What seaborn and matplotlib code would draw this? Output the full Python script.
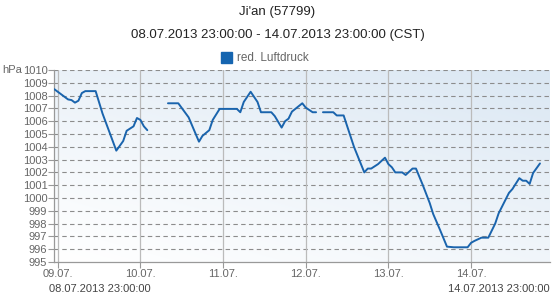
import numpy as np
import pandas as pd
import matplotlib
matplotlib.use("Agg")
import matplotlib.pyplot as plt
import seaborn as sns

# hours since 09.07.2013 00:00 (CST), reduced air pressure (hPa); segments separated by data gaps
seg1_hours = [-1, 3, 4, 5, 6, 7, 8, 11, 13, 17, 19, 20, 22, 23, 24, 25, 26]
seg1_vals = [1008.5, 1007.7, 1007.65, 1007.45, 1007.6, 1008.2, 1008.35, 1008.35, 1006.6,
             1003.7, 1004.45, 1005.25, 1005.6, 1006.25, 1006.1, 1005.6, 1005.3]
seg2_hours = [32, 35, 38, 41, 42, 44, 45, 47, 52, 53, 54, 56, 58, 59, 62, 63, 65, 66, 67,
              68, 71, 72, 74, 75]
seg2_vals = [1007.4, 1007.4, 1006.3, 1004.4, 1004.85, 1005.3, 1006.1, 1006.96, 1006.96,
             1006.7, 1007.5, 1008.3, 1007.5, 1006.7, 1006.7, 1006.4, 1005.5, 1006.0, 1006.2,
             1006.75, 1007.4, 1007.06, 1006.7, 1006.7]
seg3_hours = [77, 80, 81, 83, 86, 89, 90, 91, 93, 95, 96, 97, 98, 100, 101, 103, 104, 106,
              108, 109, 111, 113, 115, 119, 120, 121, 123, 125, 127, 128, 131, 132, 134, 135,
              136, 137, 138, 140]
seg3_vals = [1006.7, 1006.7, 1006.45, 1006.45, 1004.0, 1002.0, 1002.3, 1002.3, 1002.65,
             1003.15, 1002.65, 1002.4, 1002.0, 1002.0, 1001.8, 1002.3, 1002.3, 1001.0, 999.6,
             998.75, 997.5, 996.2, 996.15, 996.15, 996.5, 996.65, 996.9, 996.9, 998.0, 998.8,
             1000.4, 1000.7, 1001.55, 1001.35, 1001.35, 1001.1, 1001.95, 1002.7]

day_ticks = [0, 24, 48, 72, 96, 120]
day_labels = ["09.07.", "10.07.", "11.07.", "12.07.", "13.07.", "14.07."]
y_ticks = list(range(995, 1011))

title = "Ji'an (57799)"
subtitle = "08.07.2013 23:00:00 - 14.07.2013 23:00:00 (CST)"
legend_label = "red. Luftdruck"
start_label = "08.07.2013 23:00:00"
end_label = "14.07.2013 23:00:00"

df = pd.concat([
    pd.DataFrame({"hour": seg1_hours, "hPa": seg1_vals, "seg": 1}),
    pd.DataFrame({"hour": seg2_hours, "hPa": seg2_vals, "seg": 2}),
    pd.DataFrame({"hour": seg3_hours, "hPa": seg3_vals, "seg": 3}),
], ignore_index=True)

sns.set_theme(style="white")
plt.rcParams["font.family"] = ["Liberation Sans", "DejaVu Sans"]

line_color = "#1a64ad"
txt = "#444444"
tick_c = "#666666"

fig = plt.figure(figsize=(5.55, 3.0), dpi=100)
ax = fig.add_axes([54.3 / 555, 1 - 262 / 300, 496 / 555, 192 / 300])

# gradient background
nx, ny = 200, 100
gx, gy = np.meshgrid(np.linspace(0, 1, nx), np.linspace(0, 1, ny))
t = np.clip(0.55 * gx + 0.75 * gy, 0, None) ** 1.1
t = t / t.max()
c0 = np.array([1.0, 1.0, 1.0])
c1 = np.array([0.855, 0.905, 0.953])
img = c0[None, None, :] * (1 - t[..., None]) + c1[None, None, :] * t[..., None]
ax.imshow(img, extent=[0, 1, 0, 1], transform=ax.transAxes, origin="lower",
          aspect="auto", zorder=0, interpolation="bilinear")

sns.lineplot(data=df, x="hour", y="hPa", units="seg", estimator=None, color=line_color,
             linewidth=1.4, ax=ax, zorder=3, legend=False)

ax.set_xlim(-1, 143)
ax.set_ylim(995, 1010)
ax.set_yticks(y_ticks)
ax.set_yticklabels([str(v) for v in y_ticks], fontsize=8, color=tick_c)
ax.set_xticks(day_ticks)
ax.set_xticklabels(day_labels, fontsize=8, color=tick_c)
ax.set_xlabel("")
ax.set_ylabel("")
ax.tick_params(axis="y", length=4, width=0.8, color="#999999", pad=1, left=True)
ax.tick_params(axis="x", length=4, width=0.8, color="#999999", pad=1, bottom=True)

for v in y_ticks[1:]:
    ax.axhline(v, color="#8c8c8c", linewidth=0.8, dashes=(4, 3), zorder=1)
for d in day_ticks:
    ax.axvline(d, color="#bbbbbb", linewidth=0.9, zorder=1)

for s in ["top", "right"]:
    ax.spines[s].set_visible(False)
for s in ["left", "bottom"]:
    ax.spines[s].set_color("#999999")
    ax.spines[s].set_linewidth(0.9)

fig.text(0.5, 1 - 12 / 300, title, ha="center", va="center", fontsize=9.5, color="#222222")
fig.text(0.5, 1 - 35 / 300, subtitle, ha="center", va="center", fontsize=9.5, color="#222222")

# legend
fig.patches.append(matplotlib.patches.Rectangle((221 / 555, 1 - 63 / 300), 11 / 555, 11 / 300,
                                                transform=fig.transFigure, color="#1565b0"))
fig.text(237 / 555, 1 - 58 / 300, legend_label, ha="left", va="center", fontsize=8.5, color="#666666")

fig.text(2 / 555, 1 - 70 / 300, "hPa", ha="left", va="center", fontsize=8, color=tick_c)
fig.text(49 / 555, 1 - 289 / 300, start_label, ha="left", va="center", fontsize=8, color=txt)
fig.text(550 / 555, 1 - 289 / 300, end_label, ha="right", va="center", fontsize=8, color=txt)

fig.savefig("out.png", dpi=100)
